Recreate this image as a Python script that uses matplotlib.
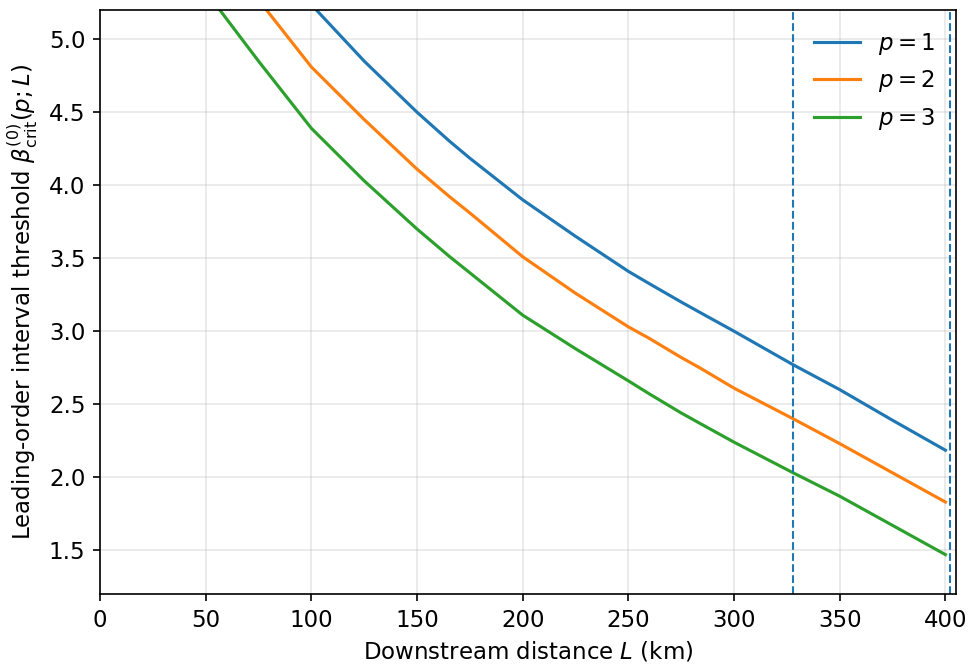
import matplotlib
matplotlib.use("Agg")
import matplotlib.pyplot as plt

plt.rcParams['font.size'] = 11

# Values (L in km, threshold value)
L_p1 = [102.4, 125, 150, 165.5, 175, 200, 225, 250, 260, 275, 283.7, 300, 328, 350, 375, 400]
beta_p1 = [5.2, 4.85, 4.50, 4.30, 4.185, 3.90, 3.65, 3.41, 3.325, 3.20, 3.13, 3.00, 2.77, 2.60, 2.39, 2.185]

L_p2 = [78.8, 100, 125, 150, 165.5, 175, 200, 225, 250, 260, 275, 283.7, 300, 328, 350, 375, 400]
beta_p2 = [5.2, 4.81, 4.45, 4.11, 3.92, 3.81, 3.51, 3.26, 3.03, 2.95, 2.82, 2.75, 2.61, 2.40, 2.23, 2.03, 1.83]

L_p3 = [56.7, 75, 100, 125, 150, 165.5, 175, 200, 225, 250, 260, 275, 283.7, 300, 328, 350, 375, 400]
beta_p3 = [5.2, 4.85, 4.39, 4.03, 3.70, 3.51, 3.40, 3.11, 2.88, 2.66, 2.57, 2.44, 2.37, 2.24, 2.03, 1.87, 1.67, 1.47]

# Vertical reference distances (km)
marker_L = [328, 402]

fig, ax = plt.subplots(figsize=(974 / 150, 670 / 150), dpi=150)
fig.subplots_adjust(left=0.1027, right=0.9815, top=0.985, bottom=0.1134)

ax.plot(L_p1, beta_p1, label='$p=1$')
ax.plot(L_p2, beta_p2, label='$p=2$')
ax.plot(L_p3, beta_p3, label='$p=3$')

for x in marker_L:
    ax.axvline(x, color='C0', linestyle='--', linewidth=1.0)

ax.set_xlim(0, 405)
ax.set_ylim(1.2, 5.2)
ax.set_xticks(range(0, 401, 50))
ax.set_yticks([1.5, 2.0, 2.5, 3.0, 3.5, 4.0, 4.5, 5.0])

ax.set_xlabel('Downstream distance $L$ (km)')
ax.set_ylabel(r'Leading-order interval threshold $\beta^{(0)}_{\rm crit}(p;L)$')
ax.grid(True, alpha=0.3)
ax.legend(loc='upper right', frameon=False)

fig.savefig('out.png', dpi=150)
